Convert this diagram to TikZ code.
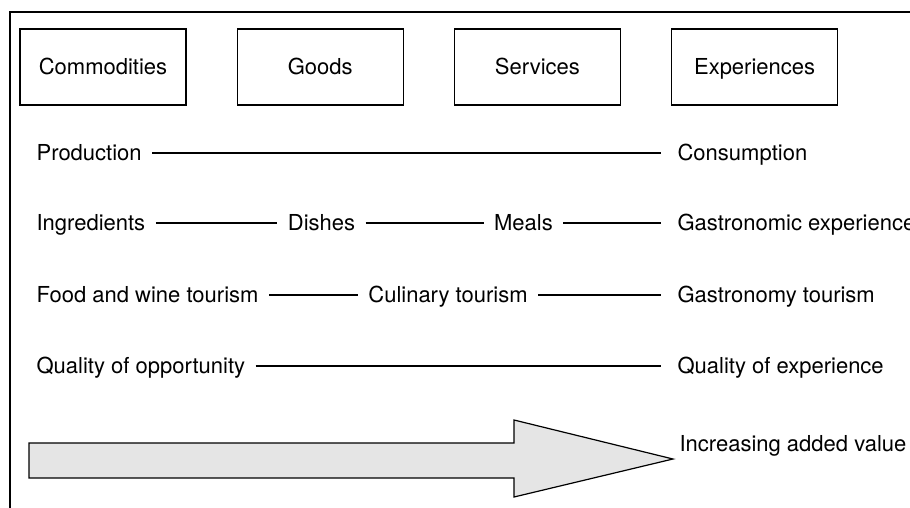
\documentclass[tikz,border=0pt]{standalone}
\usepackage{fontspec}
\setmainfont{TeX Gyre Heros}
\usepackage{tikz}
\usetikzlibrary{positioning}

\begin{document}
\begin{tikzpicture}[x=1pt,y=-1pt,line width=1.2pt,
  every node/.style={font=\fontsize{22}{26}\selectfont,text height=15.8pt,text depth=0pt},
  stage/.style={draw,minimum width=166pt,minimum height=76pt,inner sep=0pt},
  lbl/.style={inner xsep=10pt,inner ysep=0pt},
  lft/.style={lbl,anchor=west},
  rgt/.style={lbl,anchor=west,inner xsep=16pt}]
\useasboundingbox (0,0) rectangle (910,508);
\draw (910,12) -- (10,12) -- (10,508);
\node[stage] (comm) at (103,67) {Commodities};
\node[stage,right=50pt of comm] (goods) {Goods};
\node[stage,right=50pt of goods] (serv) {Services};
\node[stage,right=50pt of serv] (expe) {Experiences};
\node[lft] (prod) at (26,153) {Production};
\node[rgt] (cons) at (661,153) {Consumption};
\draw (prod) -- (cons);
\node[lft] (ingr) at (26,223) {Ingredients};
\node[lbl] (dish) at (321.5,223) {Dishes};
\node[lbl] (meal) at (523.5,223) {Meals};
\node[rgt] (gexp) at (661,223) {Gastronomic experience};
\draw (ingr) -- (dish) -- (meal) -- (gexp);
\node[lft] (fwt) at (26,295) {Food and wine tourism};
\node[lbl] (cul) at (448,295) {Culinary tourism};
\node[rgt] (gtour) at (661,295) {Gastronomy tourism};
\draw (fwt) -- (cul) -- (gtour);
\node[lft] (qopp) at (26,366) {Quality of opportunity};
\node[rgt] (qexp) at (661,366) {Quality of experience};
\draw (qopp) -- (qexp);
\draw[fill=black!10] (29,443) -- (514,443) -- (514,420) -- (673,459) -- (514,497) -- (514,478) -- (29,478) -- cycle;
\node[anchor=west,inner sep=0pt] (incr) at (679,444) {Increasing added value};
\end{tikzpicture}
\end{document}
